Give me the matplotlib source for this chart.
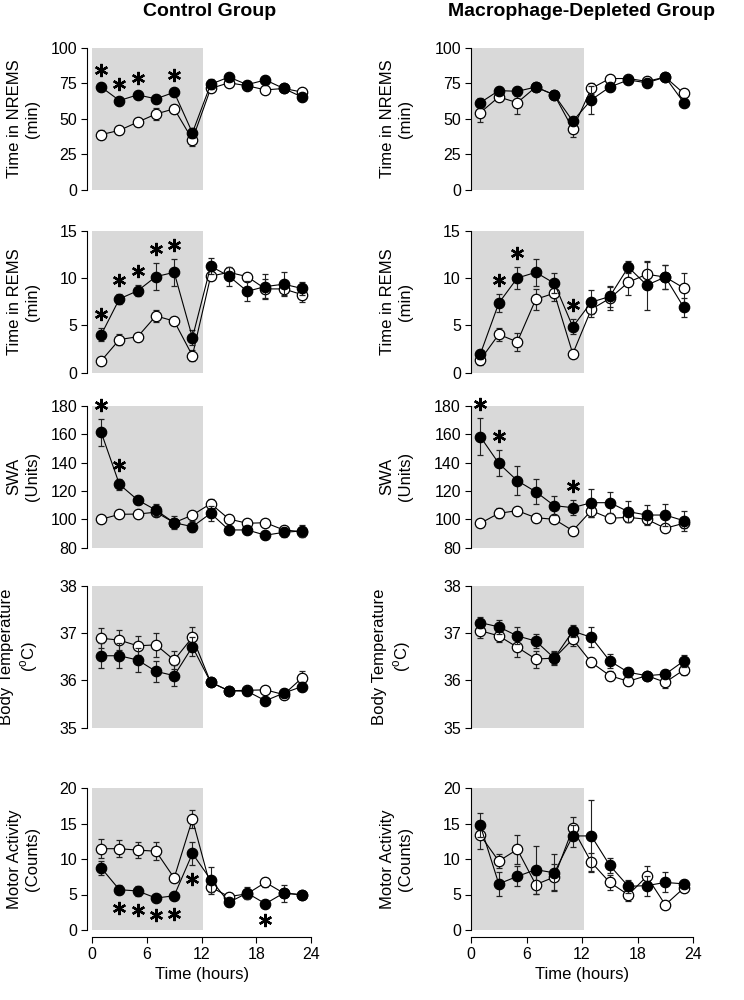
import matplotlib
matplotlib.use('Agg')
import matplotlib.pyplot as plt
from matplotlib.transforms import offset_copy

plt.rcParams['font.family'] = ['Liberation Sans', 'DejaVu Sans']
plt.rcParams['mathtext.fontset'] = 'custom'
plt.rcParams['mathtext.rm'] = 'Liberation Sans'

hours = [1, 3, 5, 7, 9, 11, 13, 15, 17, 19, 21, 23]

# ---- Control group ----
nrems_c_fill = [72.5, 63.0, 67.0, 64.2, 68.8, 40.3, 74.5, 79.5, 74.2, 77.5, 71.5, 65.5]
nrems_c_fill_se = [2.5, 2, 2, 3, 2.5, 3.5, 3.5, 2.5, 2.5, 2, 2, 2]
nrems_c_open = [39.0, 42.0, 47.8, 53.5, 57.2, 35.5, 71.5, 75.5, 73.4, 70.5, 71.5, 69.0]
nrems_c_open_se = [3, 2, 2.5, 4.5, 3, 4.5, 2, 2, 2, 2, 2, 2]

rems_c_fill = [4.0, 7.8, 8.65, 10.15, 10.6, 3.7, 11.25, 10.2, 8.6, 9.1, 9.35, 8.9]
rems_c_fill_se = [0.7, 0.55, 0.6, 1.4, 1.4, 0.8, 0.85, 1.0, 1.05, 1.3, 1.3, 0.7]
rems_c_open = [1.25, 3.5, 3.8, 6.0, 5.45, 1.8, 10.2, 10.6, 10.15, 8.85, 8.85, 8.25]
rems_c_open_se = [0.3, 0.55, 0.3, 0.65, 0.45, 0.6, 0.3, 0.4, 0.3, 1.0, 0.65, 0.8]

swa_c_fill = [161.3, 124.6, 113.6, 106.5, 97.6, 94.8, 104.2, 92.5, 92.5, 88.8, 90.8, 91.8]
swa_c_fill_se = [9.5, 4, 3, 4, 4.5, 4, 5.5, 3, 3, 3, 3, 4]
swa_c_open = [100, 103.5, 103.7, 105, 97.6, 103, 111, 100.2, 97.2, 97.6, 92.5, 91.3]
swa_c_open_se = [2, 1.5, 1.5, 2.5, 2, 1.5, 3, 1.5, 1.5, 1.5, 2, 2]

bt_c_fill = [36.52, 36.52, 36.43, 36.19, 36.10, 36.71, 35.96, 35.78, 35.77, 35.57, 35.73, 35.87]
bt_c_fill_se = [0.26, 0.26, 0.26, 0.22, 0.22, 0.2, 0.08, 0.08, 0.08, 0.06, 0.08, 0.1]
bt_c_open = [36.89, 36.85, 36.73, 36.75, 36.43, 36.91, 35.96, 35.78, 35.79, 35.80, 35.70, 36.05]
bt_c_open_se = [0.21, 0.21, 0.2, 0.25, 0.2, 0.22, 0.06, 0.06, 0.08, 0.06, 0.1, 0.15]

motor_c_fill = [8.75, 5.67, 5.5, 4.5, 4.82, 10.78, 7.1, 3.9, 5.2, 3.7, 5.2, 4.96]
motor_c_fill_se = [1.0, 0.6, 0.7, 0.4, 0.6, 1.6, 1.8, 0.5, 0.9, 0.4, 1.2, 0.5]
motor_c_open = [11.45, 11.45, 11.25, 11.1, 7.33, 15.6, 6.05, 4.7, 5.1, 6.7, 5.2, 4.96]
motor_c_open_se = [1.3, 1.2, 1.1, 1.3, 0.5, 1.3, 1.0, 0.5, 0.5, 0.6, 0.5, 0.4]

# ---- Macrophage-depleted group ----
nrems_m_fill = [61.5, 70.0, 69.5, 72.5, 67.0, 48.5, 63.5, 72.5, 77.5, 75.5, 79.5, 61.5]
nrems_m_fill_se = [3, 2.5, 3, 2.5, 2.5, 3, 10, 3, 2.5, 2.5, 2, 2.5]
nrems_m_open = [54.5, 65.5, 61.5, 72.5, 67.0, 43.0, 71.5, 78.5, 78.5, 76.5, 79.5, 68.0]
nrems_m_open_se = [6.5, 3, 8, 2.5, 2.5, 5.5, 4, 2, 2, 2, 2, 2.5]

rems_m_fill = [1.95, 7.35, 10.0, 10.6, 9.45, 4.85, 7.45, 8.05, 11.15, 9.25, 10.1, 6.9]
rems_m_fill_se = [0.45, 0.95, 1.15, 1.45, 1.05, 0.8, 1.3, 1.1, 0.6, 2.6, 1.3, 1.0]
rems_m_open = [1.35, 4.05, 3.25, 7.75, 8.4, 2.0, 6.7, 7.85, 9.55, 10.4, 10.1, 8.95]
rems_m_open_se = [0.55, 0.65, 0.95, 1.1, 0.85, 0.25, 0.85, 1.25, 1.35, 1.25, 1.3, 1.55]

swa_m_fill = [158.2, 139.4, 127.2, 119.4, 109.6, 108.2, 111.7, 111.7, 105.4, 103, 103, 99]
swa_m_fill_se = [12.9, 9.2, 10, 8.8, 6.5, 5.5, 9.8, 7.3, 7.6, 7, 7.5, 7]
swa_m_open = [97.2, 104.2, 106.1, 101.1, 100, 92, 106.1, 100.7, 101.4, 100, 93.7, 97.2]
swa_m_open_se = [1.5, 3.5, 1.5, 1.5, 1.5, 1.5, 4.5, 1.5, 3, 3, 1.5, 3]

bt_m_fill = [37.22, 37.13, 36.94, 36.83, 36.47, 37.04, 36.91, 36.41, 36.17, 36.10, 36.13, 36.41]
bt_m_fill_se = [0.12, 0.15, 0.18, 0.14, 0.15, 0.12, 0.21, 0.15, 0.1, 0.05, 0.08, 0.13]
bt_m_open = [37.05, 36.94, 36.70, 36.45, 36.47, 36.87, 36.38, 36.10, 35.98, 36.10, 35.96, 36.22]
bt_m_open_se = [0.15, 0.12, 0.2, 0.18, 0.12, 0.15, 0.1, 0.1, 0.08, 0.05, 0.12, 0.1]

motor_m_fill = [14.75, 6.5, 7.55, 8.5, 8.05, 13.25, 13.25, 9.1, 6.15, 6.25, 6.7, 6.5]
motor_m_fill_se = [1.7, 1.7, 1.4, 3.4, 2.6, 1.6, 5.1, 1.1, 0.9, 1.4, 1.4, 0.5]
motor_m_open = [13.35, 9.7, 11.35, 6.4, 7.45, 14.3, 9.55, 6.7, 4.95, 7.55, 3.55, 5.9]
motor_m_open_se = [2.0, 1.0, 2.1, 1.3, 1.8, 1.6, 1.3, 1.0, 0.9, 1.5, 0.5, 0.6]

# significance marks (hours), above or below the filled series
stars_up = {
    ('nrems', 'c'): [1, 3, 5, 9],
    ('rems', 'c'): [1, 3, 5, 7, 9],
    ('swa', 'c'): [1, 3],
    ('rems', 'm'): [3, 5, 11],
    ('swa', 'm'): [1, 3, 11],
}
stars_down = {
    ('motor', 'c'): [3, 5, 7, 9, 11, 19],
}

col_titles = ['Control Group', 'Macrophage-Depleted Group']
row_labels = ['Time in NREMS\n(min)', 'Time in REMS\n(min)', 'SWA\n(Units)',
              'Body Temperature\n($^{\\mathrm{o}}$C)', 'Motor Activity\n(Counts)']
row_keys = ['nrems', 'rems', 'swa', 'bt', 'motor']
row_ylims = [(0, 100), (0, 15), (80, 180), (35, 38), (0, 20)]
row_yticks = [[0, 25, 50, 75, 100], [0, 5, 10, 15], [80, 100, 120, 140, 160, 180],
              [35, 36, 37, 38], [0, 5, 10, 15, 20]]
xticks = [0, 6, 12, 18, 24]

data = {
    ('nrems', 'c'): (nrems_c_fill, nrems_c_fill_se, nrems_c_open, nrems_c_open_se),
    ('rems', 'c'): (rems_c_fill, rems_c_fill_se, rems_c_open, rems_c_open_se),
    ('swa', 'c'): (swa_c_fill, swa_c_fill_se, swa_c_open, swa_c_open_se),
    ('bt', 'c'): (bt_c_fill, bt_c_fill_se, bt_c_open, bt_c_open_se),
    ('motor', 'c'): (motor_c_fill, motor_c_fill_se, motor_c_open, motor_c_open_se),
    ('nrems', 'm'): (nrems_m_fill, nrems_m_fill_se, nrems_m_open, nrems_m_open_se),
    ('rems', 'm'): (rems_m_fill, rems_m_fill_se, rems_m_open, rems_m_open_se),
    ('swa', 'm'): (swa_m_fill, swa_m_fill_se, swa_m_open, swa_m_open_se),
    ('bt', 'm'): (bt_m_fill, bt_m_fill_se, bt_m_open, bt_m_open_se),
    ('motor', 'm'): (motor_m_fill, motor_m_fill_se, motor_m_open, motor_m_open_se),
}

fig = plt.figure(figsize=(7.44, 10), dpi=100)

col_left = [0.1237, 0.6331]
col_width = [0.2944, 0.2984]
row_bottom = [0.810, 0.6273, 0.4523, 0.2723, 0.070]
row_height = 0.142
label_x = [-0.237, -0.26]
shade = '#d9d9d9'

for ci, grp in enumerate(['c', 'm']):
    for ri, key in enumerate(row_keys):
        ax = fig.add_axes([col_left[ci], row_bottom[ri], col_width[ci], row_height])
        fill, fill_se, opn, opn_se = data[(key, grp)]
        ax.axvspan(0, 12.2, color=shade, lw=0, zorder=0)
        style = dict(fmt='-o', color='black', mec='black', ms=7.5, mew=0.9, lw=0.8,
                     elinewidth=0.8, ecolor='#222222', capsize=2.5, capthick=0.8)
        ax.errorbar(hours, opn, yerr=opn_se, mfc='white', zorder=2, **style)
        ax.errorbar(hours, fill, yerr=fill_se, mfc='black', zorder=3, **style)

        up = offset_copy(ax.transData, fig=fig, y=10, units='points')
        down = offset_copy(ax.transData, fig=fig, y=-10, units='points')
        for h in stars_up.get((key, grp), []):
            i = hours.index(h)
            ax.plot(h, fill[i] + fill_se[i], marker=(6, 2, 0), ms=9.5, mew=1.7,
                    color='black', transform=up, clip_on=False, zorder=4)
        for h in stars_down.get((key, grp), []):
            i = hours.index(h)
            ax.plot(h, fill[i] - fill_se[i], marker=(6, 2, 0), ms=9.5, mew=1.7,
                    color='black', transform=down, clip_on=False, zorder=4)

        ax.set_xlim(0, 24)
        ax.set_ylim(*row_ylims[ri])
        ax.set_yticks(row_yticks[ri])
        for s in ['top', 'right']:
            ax.spines[s].set_visible(False)
        ax.spines['left'].set_linewidth(0.8)
        if ci == 0:
            ax.spines['left'].set_position(('outward', 3.5))
        if ri == len(row_keys) - 1:
            ax.set_xticks(xticks)
            ax.spines['bottom'].set_position(('outward', 5))
            ax.spines['bottom'].set_linewidth(0.8)
        else:
            ax.set_xticks([])
            ax.spines['bottom'].set_visible(False)
        ax.tick_params(direction='out', length=4.3, width=0.8, labelsize=11.5, pad=3)
        ax.set_ylabel(row_labels[ri], fontsize=12, linespacing=1.3, multialignment='center')
        ax.yaxis.set_label_coords(label_x[ci], 0.5)

fig.text(0.281, 0.988, col_titles[0], ha='center', va='center', fontsize=14, fontweight='bold')
fig.text(0.782, 0.988, col_titles[1], ha='center', va='center', fontsize=14, fontweight='bold')
fig.text(0.271, 0.025, 'Time (hours)', ha='center', va='center', fontsize=12)
fig.text(0.782, 0.025, 'Time (hours)', ha='center', va='center', fontsize=12)

fig.savefig('out.png', dpi=100)
